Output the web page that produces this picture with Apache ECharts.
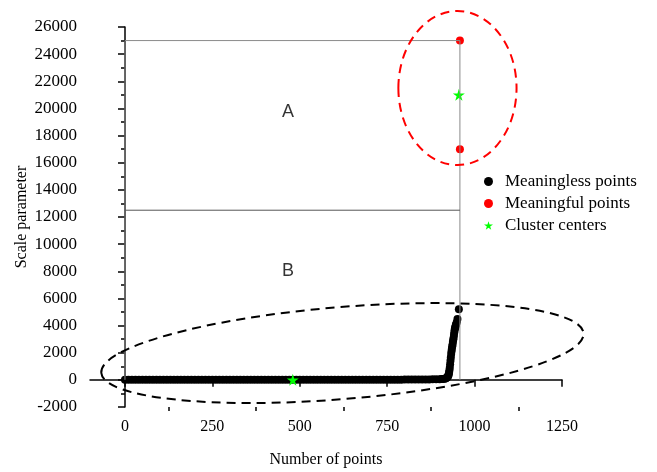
<!DOCTYPE html>
<html>
<head>
<meta charset="utf-8">
<script src="https://cdn.jsdelivr.net/npm/echarts@6/dist/echarts.min.js"></script>
<style>
  html, body { margin: 0; padding: 0; background: #fff; }
  #main { width: 657px; height: 472px; }
</style>
</head>
<body>
<div id="main"></div>
<script>
// point index / scale parameter of the meaningless points (flat part + steep tail)
var meaninglessX = [
  0, 10, 20, 30, 40, 50, 60, 70, 80, 90, 100, 110, 120, 130, 140, 150, 160, 170, 180, 190,
  200, 210, 220, 230, 240, 250, 260, 270, 280, 290, 300, 310, 320, 330, 340, 350, 360, 370, 380, 390,
  400, 410, 420, 430, 440, 450, 460, 470, 480, 490, 500, 510, 520, 530, 540, 550, 560, 570, 580, 590,
  600, 610, 620, 630, 640, 650, 660, 670, 680, 690, 700, 710, 720, 730, 740, 750, 760, 770, 780, 790,
  800, 810, 820, 830, 840, 850, 860, 870, 880, 890, 900, 905, 910, 915, 918,
  920, 922, 924, 925, 926, 927, 928, 929, 930, 931, 932, 933, 934, 935, 936, 937, 938, 939, 940,
  941, 942, 943, 944, 945, 946, 947, 949, 951, 955
];
var meaninglessY = [
  0, 0, 0, 0, 0, 0, 0, 0, 0, 0, 0, 0, 0, 0, 0, 0, 0, 0, 0, 0,
  0, 0, 0, 0, 0, 0, 0, 0, 0, 0, 0, 0, 0, 0, 0, 0, 0, 0, 0, 0,
  0, 0, 0, 0, 0, 0, 0, 0, 0, 0, 0, 0, 0, 0, 0, 0, 0, 0, 0, 0,
  0, 0, 0, 0, 0, 0, 0, 0, 0, 0, 10, 10, 10, 10, 10, 10, 10, 10, 10, 10,
  20, 20, 20, 20, 20, 30, 30, 30, 40, 40, 50, 60, 70, 90, 120,
  150, 200, 260, 320, 420, 550, 700, 900, 1150, 1400, 1650, 1900, 2100, 2300, 2450, 2600, 2800, 2950, 3100,
  3300, 3500, 3700, 3800, 3900, 4000, 4100, 4250, 4480, 5200
];

var meaningfulX = [958, 958];
var meaningfulY = [25000, 17000];

var centerX = [480, 955];
var centerY = [0, 21000];

// frame around regions A / B
var boxX = [0, 0, 958, 958];
var boxY = [0, 25000, 25000, 0];
var splitX = [0, 958];
var splitY = [12500, 12500];

var regionNames = ['A', 'B'];
var regionX = [466, 466];
var regionY = [19700, 8000];

var xTicks = [0, 250, 500, 750, 1000, 1250];
var xMinorTicks = [125, 375, 625, 875, 1125];

function zip(xs, ys) {
  return xs.map(function (x, i) { return [x, ys[i]]; });
}

var star = 'path://M50,0 L61,35 L98,35 L68,57 L79,91 L50,70 L21,91 L32,57 L2,35 L39,35 Z';
var serif = 'Liberation Serif';
var plain = function (v) { return String(v); };

var chart = echarts.init(document.getElementById('main'));

var option = {
  animation: false,
  backgroundColor: '#fff',
  grid: { left: 90, right: 95, top: 27, bottom: 65, outerBoundsMode: 'none' },
  legend: {
    orient: 'vertical',
    left: 479,
    top: 168,
    itemWidth: 9,
    itemHeight: 9,
    itemGap: 5,
    textStyle: { fontFamily: serif, fontSize: 17, color: '#000', lineHeight: 17, padding: [0, 0, 0, 7] },
    data: ['Meaningless points', 'Meaningful points', 'Cluster centers']
  },
  xAxis: [{
    type: 'value',
    min: -100,
    max: 1250,
    name: 'Number of points',
    nameLocation: 'middle',
    nameGap: 45,
    nameMoveOverlap: false,
    nameTextStyle: { fontFamily: serif, fontSize: 16, color: '#000' },
    splitLine: { show: false },
    axisLine: { lineStyle: { color: '#000', width: 1.5 } },
    axisTick: { customValues: xTicks, length: 7, lineStyle: { color: '#000', width: 1.5 } },
    axisLabel: { customValues: xTicks, formatter: plain, margin: 12, fontFamily: serif, fontSize: 16, color: '#000' }
  }, {
    type: 'value',
    position: 'bottom',
    min: -100,
    max: 1250,
    splitLine: { show: false },
    axisLine: { show: false },
    axisTick: { customValues: xMinorTicks, length: 4, lineStyle: { color: '#000', width: 1.5 } },
    axisLabel: { show: false }
  }],
  yAxis: {
    type: 'value',
    min: -2000,
    max: 26000,
    interval: 2000,
    name: 'Scale parameter',
    nameLocation: 'middle',
    nameGap: 60,
    nameMoveOverlap: false,
    nameTextStyle: { fontFamily: serif, fontSize: 16, color: '#000' },
    splitLine: { show: false },
    axisLine: { lineStyle: { color: '#000', width: 1.5 } },
    axisTick: { length: 7, lineStyle: { color: '#000', width: 1.5 } },
    minorTick: { show: true, splitNumber: 2, length: 4, lineStyle: { color: '#000', width: 1.5 } },
    axisLabel: { formatter: plain, margin: 13, fontFamily: serif, fontSize: 17, color: '#000' }
  },
  series: [
    {
      type: 'line',
      data: zip(boxX, boxY),
      symbol: 'none',
      silent: true,
      lineStyle: { color: '#8a8a8a', width: 1 }
    },
    {
      type: 'line',
      data: zip(splitX, splitY),
      symbol: 'none',
      silent: true,
      lineStyle: { color: '#555', width: 1 }
    },
    {
      type: 'scatter',
      symbolSize: 0,
      silent: true,
      data: regionNames.map(function (n, i) { return { name: n, value: [regionX[i], regionY[i]] }; }),
      label: {
        show: true,
        position: 'inside',
        formatter: '{b}',
        fontFamily: 'Liberation Sans',
        fontSize: 18,
        color: '#000'
      }
    },
    {
      name: 'Meaningless points',
      type: 'scatter',
      symbol: 'circle',
      symbolSize: 8,
      itemStyle: { color: '#000', opacity: 1 },
      data: zip(meaninglessX, meaninglessY)
    },
    {
      name: 'Meaningful points',
      type: 'scatter',
      symbol: 'circle',
      symbolSize: 8,
      itemStyle: { color: '#ff0000', opacity: 1 },
      data: zip(meaningfulX, meaningfulY)
    },
    {
      name: 'Cluster centers',
      type: 'scatter',
      symbol: star,
      symbolSize: 12,
      itemStyle: { color: '#00ff00', opacity: 1 },
      data: zip(centerX, centerY)
    }
  ]
};

chart.setOption(option);

// dashed ellipses around the two groups, given in data units
var ellipseCx = [622, 951];
var ellipseCy = [1976, 21500];
var ellipseRx = [692, 169];
var ellipseRy = [3390, 5674];
var ellipseTilt = [0.082, 0];
var ellipseColor = ['#000', '#ff0000'];

var shapes = ellipseCx.map(function (cx, i) {
  var c = chart.convertToPixel({ gridIndex: 0 }, [cx, ellipseCy[i]]);
  var e = chart.convertToPixel({ gridIndex: 0 }, [cx + ellipseRx[i], ellipseCy[i] + ellipseRy[i]]);
  return {
    type: 'ellipse',
    x: c[0],
    y: c[1],
    rotation: ellipseTilt[i],
    silent: true,
    z: 10,
    shape: { cx: 0, cy: 0, rx: Math.abs(e[0] - c[0]), ry: Math.abs(e[1] - c[1]) },
    style: { fill: null, stroke: ellipseColor[i], lineWidth: 2, lineDash: [9, 6] }
  };
});

chart.setOption({ graphic: shapes });
</script>
</body>
</html>
